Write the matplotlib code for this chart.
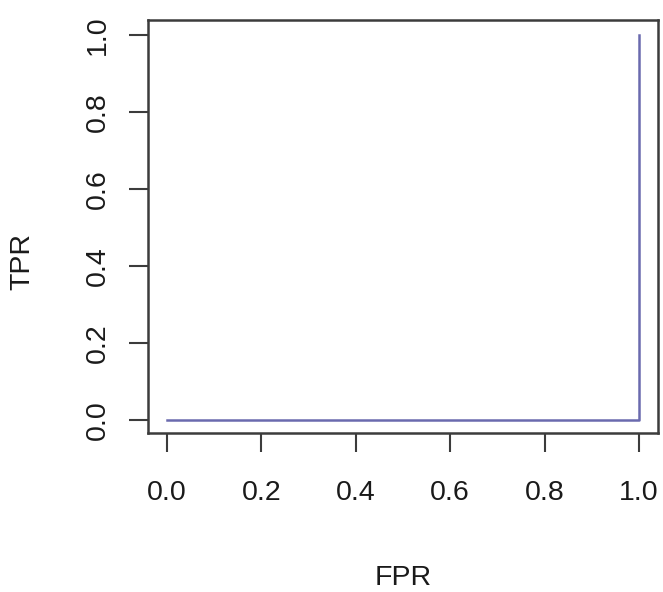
import matplotlib
matplotlib.use("Agg")
import matplotlib.pyplot as plt

# ROC curve points (degenerate classifier)
fpr = [0.0, 1.0, 1.0]
tpr = [0.0, 0.0, 1.0]
x_ticks = [0.0, 0.2, 0.4, 0.6, 0.8, 1.0]
y_ticks = [0.0, 0.2, 0.4, 0.6, 0.8, 1.0]

plt.rcParams["font.family"] = ["Liberation Sans", "DejaVu Sans"]

fig = plt.figure(figsize=(6.63, 5.92), dpi=100)
ax = fig.add_axes([148 / 663, 1 - 433 / 592, 510 / 663, 413 / 592])

ax.plot(fpr, tpr, color="#6a6aae", linewidth=1.8)

ax.set_xlim(-0.04, 1.04)
ax.set_ylim(-0.034, 1.039)
ax.set_xticks(x_ticks)
ax.set_yticks(y_ticks)
ax.set_xticklabels([f"{v:.1f}" for v in x_ticks])
ax.set_yticklabels([f"{v:.1f}" for v in y_ticks], rotation=90, va="center")

for s in ax.spines.values():
    s.set_color("#3c3c3c")
    s.set_linewidth(1.8)

ax.tick_params(axis="both", direction="out", length=14, width=1.5,
               color="#3c3c3c", labelsize=20.5, labelcolor="#1a1a1a")
ax.tick_params(axis="x", pad=20)
ax.tick_params(axis="y", pad=13)

fig.text(403 / 663, 1 - 578 / 592, "FPR", ha="center", va="center",
         fontsize=20.5, color="#1a1a1a")
fig.text(22 / 663, 1 - 262 / 592, "TPR", ha="center", va="center",
         rotation=90, fontsize=20.5, color="#1a1a1a")

fig.savefig("out.png", dpi=100)
